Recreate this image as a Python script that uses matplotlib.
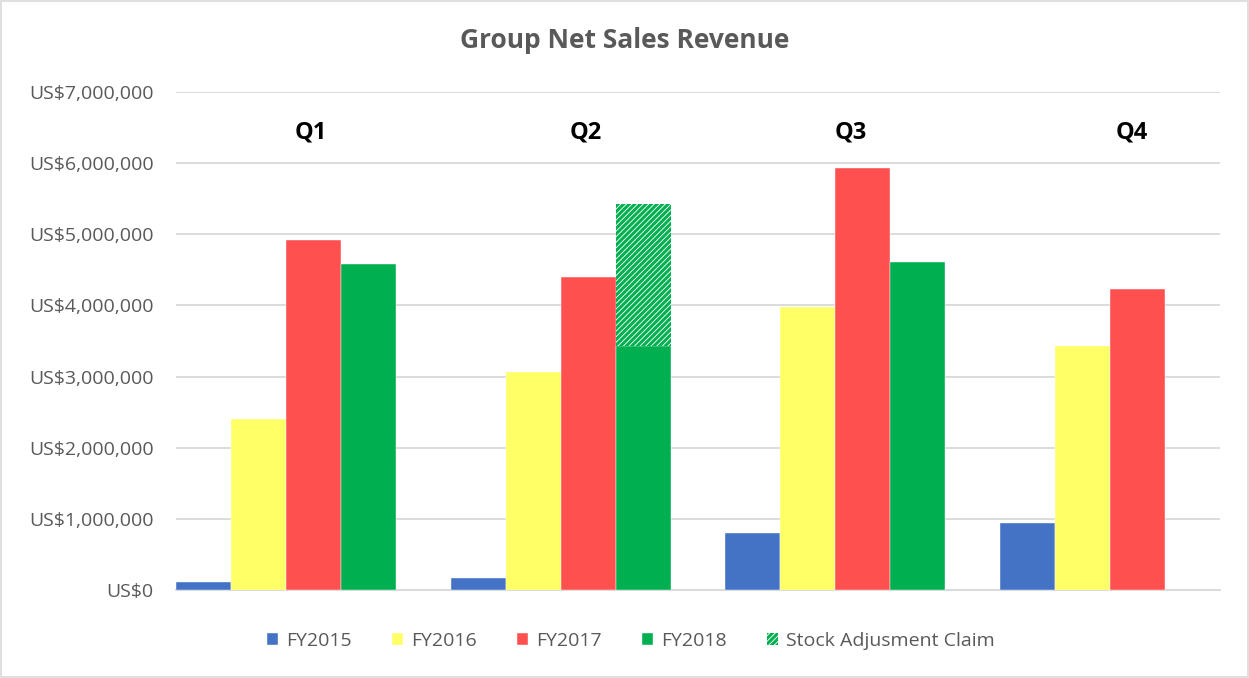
import matplotlib
matplotlib.use("Agg")
import matplotlib.pyplot as plt
import matplotlib.patches as mpatches
from matplotlib.ticker import FuncFormatter
import numpy as np

quarters = ["Q1", "Q2", "Q3", "Q4"]
fy2015 = [115000, 175000, 795000, 945000]
fy2016 = [2410000, 3065000, 3975000, 3430000]
fy2017 = [4915000, 4400000, 5925000, 4225000]
fy2018 = [4580000, 3430000, 4610000, None]
stock_claim = [None, 1990000, None, None]
series_names = ["FY2015", "FY2016", "FY2017", "FY2018"]
colors = ["#4472C4", "#FFFF66", "#FF5050", "#00B050"]
claim_label = "Stock Adjusment Claim"

plt.rcParams['font.family'] = ['Open Sans', 'DejaVu Sans']
plt.rcParams['hatch.linewidth'] = 2.2

fig = plt.figure(figsize=(12.49, 6.78), dpi=100)
ax = fig.add_axes([176/1249, 1-590/678, (1220-176)/1249, (590-92)/678])

x = np.arange(len(quarters))
w = 0.2
all_series = [fy2015, fy2016, fy2017, fy2018]
for i, (vals, c) in enumerate(zip(all_series, colors)):
    xs = [x[j] + (i - 1.5) * w for j in range(len(vals)) if vals[j] is not None]
    hs = [v for v in vals if v is not None]
    ax.bar(xs, hs, width=w, color=c, edgecolor='white', linewidth=0.3, zorder=3, label=series_names[i])

cx = [x[j] + 1.5 * w for j in range(len(stock_claim)) if stock_claim[j] is not None]
ch = [stock_claim[j] for j in range(len(stock_claim)) if stock_claim[j] is not None]
cb = [fy2018[j] for j in range(len(stock_claim)) if stock_claim[j] is not None]
ax.bar(cx, ch, bottom=cb, width=w, color='white', edgecolor='#00B050', hatch='//////',
       linewidth=0, zorder=3, label=claim_label)

ax.set_xlim(-0.4, 3.4)
ax.set_ylim(0, 7000000)
ax.set_yticks(np.arange(0, 7000001, 1000000))
ax.yaxis.set_major_formatter(FuncFormatter(lambda v, p: "US${:,.0f}".format(v)))
ax.set_xticks([])
ax.tick_params(axis='y', length=0, pad=16, labelsize=14, labelcolor='#595959')
ax.grid(axis='y', color='#D9D9D9', linewidth=1.3, zorder=0)
for s in ['top', 'right', 'left']:
    ax.spines[s].set_visible(False)
ax.spines['bottom'].set_color('#D9D9D9')
ax.spines['bottom'].set_linewidth(1.3)

q_off = [0.09, 0.09, 0.055, 0.08]
for j, q in enumerate(quarters):
    ax.text(x[j] + q_off[j], 6430000, q, ha='center', va='center', fontsize=17,
            fontweight='bold', color='black')

fig.text(0.5, 1-41/678, "Group Net Sales Revenue", ha='center', va='center',
         fontsize=19, fontweight='bold', color='#595959')

leg = fig.legend(loc='center', bbox_to_anchor=(0.505, 1-641/678), ncol=5, frameon=False,
                 fontsize=14, handlelength=0.6, handleheight=0.6, handletextpad=0.4,
                 columnspacing=2.05)
for t in leg.get_texts():
    t.set_color('#595959')

fig.patches.append(mpatches.Rectangle((1/1249, 1/678), 1-2/1249, 1-2/678, transform=fig.transFigure,
                                      fill=False, edgecolor='#D9D9D9', linewidth=1.2))

fig.savefig("out.png", dpi=100)
